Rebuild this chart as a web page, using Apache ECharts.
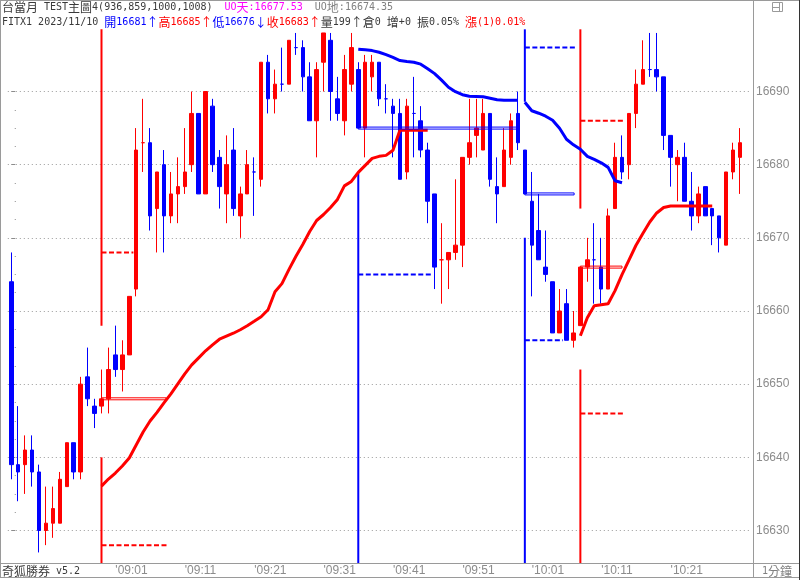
<!DOCTYPE html>
<html><head><meta charset="utf-8">
<script src="https://cdn.jsdelivr.net/npm/echarts@6/dist/echarts.min.js"></script>
<style>html,body{margin:0;padding:0;background:#fff}#c{width:800px;height:580px}</style>
</head><body><div id="c"></div>
<script>
// ---------------- data ----------------
const firstBarMinute = 8 * 60 + 46;          // 08:46
const barCount = 106;
const tickTimes = ['09:01','09:11','09:21','09:31','09:41','09:51','10:01','10:11','10:21'];

const openP = [16664,16639,16639,16641,16638,16630,16631,16631,16636,16642,
16638,16651,16647,16647,16648,16654,16652,16654,16663,16683,
16683,16674,16680,16673,16676,16677,16680,16687,16676,16688,
16681,16676,16682,16673,16676,16679,16678,16694,16689,16691,
16691,16696,16696,16692,16686,16694,16697,16689,16686,16691,
16693,16685,16692,16694,16689,16688,16687,16679,16687,16686,
16682,16676,16667,16667,16668,16669,16681,16684,16682,16687,
16677,16677,16681,16687,16682,16675,16671,16666,16664,16657,
16661,16656,16658,16666,16667,16666,16663,16674,16681,16680,
16687,16691,16693,16693,16692,16684,16680,16681,16675,16673,
16677,16674,16673,16669,16679,16681];
const closeP = [16639,16638,16641,16638,16630,16631,16633,16637,16642,16638,
16650,16648,16646,16648,16652,16652,16654,16662,16682,16683,
16673,16679,16673,16676,16677,16679,16687,16676,16690,16680,
16677,16680,16674,16676,16680,16679,16694,16689,16691,16691,
16697,16696,16692,16686,16693,16698,16690,16687,16693,16696,
16685,16694,16694,16689,16689,16687,16678,16688,16687,16682,
16675,16666,16667,16668,16669,16681,16683,16685,16687,16678,
16676,16682,16686,16683,16676,16669,16667,16665,16657,16660,
16656,16657,16666,16667,16667,16663,16673,16681,16679,16687,
16691,16693,16693,16692,16684,16681,16681,16675,16673,16676,
16673,16673,16670,16679,16682,16683];
const lowP = [16637,16634,16635,16636,16627,16628,16629,16631,16636,16637,
16637,16647,16644,16646,16646,16651,16649,16654,16662,16679,
16671,16668,16668,16672,16672,16676,16679,16676,16676,16679,
16674,16672,16673,16670,16676,16673,16677,16687,16687,16690,
16691,16695,16690,16686,16681,16690,16686,16686,16684,16690,
16685,16681,16690,16688,16687,16681,16678,16678,16681,16681,
16672,16663,16661,16663,16667,16666,16680,16681,16682,16677,
16672,16677,16680,16682,16676,16662,16667,16664,16657,16657,
16656,16655,16658,16664,16661,16661,16663,16674,16678,16678,
16685,16691,16692,16690,16682,16677,16675,16675,16671,16672,
16673,16669,16668,16669,16678,16676];
const highP = [16668,16647,16643,16643,16639,16636,16636,16638,16642,16642,
16651,16655,16648,16652,16655,16658,16656,16662,16685,16689,
16685,16679,16682,16679,16681,16685,16690,16687,16690,16689,
16682,16684,16685,16677,16682,16681,16694,16695,16693,16696,
16697,16698,16697,16694,16694,16698,16698,16692,16695,16698,
16694,16695,16695,16694,16691,16689,16689,16689,16692,16688,
16683,16676,16672,16668,16678,16681,16689,16689,16689,16687,
16681,16685,16687,16690,16682,16679,16676,16671,16664,16663,
16663,16660,16666,16670,16672,16670,16674,16683,16684,16687,
16693,16697,16698,16698,16692,16684,16682,16683,16679,16677,
16677,16674,16673,16679,16683,16685];

// trailing bands (start bar + values)
const redBand1Start = 13;
const redBand1 = [16636.07,16637.03,16637.85,16638.81,16639.90,16641.68,16643.47,16644.97,16646.14,16647.44,
16648.67,16650.04,16651.41,16652.64,16653.60,16654.56,16655.38,16656.14,16656.55,16656.96,
16657.44,16657.99,16658.60,16659.22,16660.18,16662.64,16663.74,16665.66,16667.44,16669.08,
16670.86,16672.37,16673.19,16674.15,16675.25,16677.10,16677.71,16678.95,16679.90,16680.86,
16681.14,16681.27,16681.96,16684.70,16684.70,16684.70,16684.70,16684.70];
const blueBand1Start = 50;
const blueBand1 = [16695.79,16695.70,16695.59,16695.36,16695.04,16694.66,16694.23,16694.11,16694.00,16693.74,
16693.12,16692.44,16691.55,16690.59,16689.97,16689.56,16689.36,16689.32,16689.27,16689.08,
16688.88,16688.81,16688.81,16688.81];
const blueBand2Start = 74;
const blueBand2 = [16688.53,16687.37,16687.03,16686.62,16686.07,16684.97,16683.47,16682.71,16682.10,16681.14,
16680.73,16680.25,16679.63,16677.80,16677.53];
const redBand2Start = 82;
const redBand2 = [16656.62,16659.08,16660.73,16660.86,16661.00,16662.78,16664.97,16666.96,16668.95,16670.59,
16672.16,16673.40,16674.15,16674.35,16674.35,16674.35,16674.35,16674.35,16674.35,16674.35];

// signal markers: bar, vertical segments [from,to], dashed levels [price,endBar], box [price,endBar]
const markerBars = [13, 50, 74, 82];
const markerVerticals = [
  [[16698.5, 16658], [16640, 16625.5]],
  [[16679, 16625.5]],
  [[16698.5, 16688.6], [16670, 16625.5]],
  [[16698.5, 16674], [16652, 16625.5]]
];
const markerDashes = [
  [[16668, 17.6], [16628, 22.5]],
  [[16665, 60.5]],
  [[16696, 81.5], [16656, 79.5]],
  [[16686, 88.4], [16646, 88.4]]
];
const markerBoxes = [[16648, 22.3], [16685, 72.8], [16676, 81.1], [16666, 88.0]];

// ---------------- styling ----------------
const UP = '#ff0000', DOWN = '#0000ff';
const markerColors = [UP, DOWN, DOWN, UP];
const GRAY = '#8c8c8c';

const cats = [];
for (let i = 0; i < barCount + 1; i++) {
  const t = firstBarMinute + i;
  cats.push(String(Math.floor(t / 60)).padStart(2, '0') + ':' + String(t % 60).padStart(2, '0'));
}

const candles = openP.map((o, i) => {
  const c = closeP[i];
  const item = { value: [o, c, lowP[i], highP[i]] };
  if (o === c) {
    const col = (i > 0 && c > closeP[i - 1]) ? UP : DOWN;
    item.itemStyle = { color: col, color0: col, borderColor: col, borderColor0: col };
  }
  return item;
});

function lineS(points, color, width, type, z) {
  return {
    type: 'line', xAxisIndex: 1, yAxisIndex: 0, data: points, showSymbol: false, symbol: 'none',
    clip: false, silent: true, animation: false, z: z || 4,
    lineStyle: { color: color, width: width, type: type || 'solid', cap: 'butt' }
  };
}
function band(start, vals) { return vals.map((v, k) => [start + k, v]); }

const series = [{
  type: 'candlestick', xAxisIndex: 0, yAxisIndex: 0, data: candles, barWidth: 4, clip: false,
  silent: true, z: 2,
  itemStyle: { color: UP, color0: DOWN, borderColor: UP, borderColor0: DOWN, borderWidth: 1 }
}];

markerBars.forEach((b, g) => {
  const col = markerColors[g];
  markerVerticals[g].forEach(seg => series.push(lineS([[b, seg[0]], [b, seg[1]]], col, 2, 'solid', 3)));
  markerDashes[g].forEach(d => series.push(lineS([[b, d[0]], [d[1], d[0]]], col, 2, [5, 2.5], 3)));
  const bx = markerBoxes[g], h = 0.137;
  series.push(lineS([[b, bx[0] + h], [bx[1], bx[0] + h], [bx[1], bx[0] - h], [b, bx[0] - h], [b, bx[0] + h]], col, 1, 'solid', 5));
});
series.push(lineS(band(redBand1Start, redBand1), UP, 3, 'solid', 4));
series.push(lineS(band(blueBand1Start, blueBand1), DOWN, 3, 'solid', 4));
series.push(lineS(band(blueBand2Start, blueBand2), DOWN, 3, 'solid', 4));
series.push(lineS(band(redBand2Start, redBand2), UP, 3, 'solid', 4));

// ---------------- header text ----------------
const textColors = { d: '#3a3a3a', b: DOWN, r: UP, m: '#ff00ff', g: '#808080' };
const richStyles = {};
Object.keys(textColors).forEach(k => {
  richStyles[k + 'L'] = { fill: textColors[k], fontFamily: 'DejaVu Sans Mono', fontSize: 10 };
  richStyles[k + 'C'] = { fill: textColors[k], fontFamily: 'Noto Sans CJK TC', fontSize: 12 };
});
function rich(text, key) {
  let out = '', buf = '', cur = null;
  for (const ch of text) {
    const t = /[\u2190-\u21ff\u3000-\u9fff\uff00-\uffef]/.test(ch) ? 'C' : 'L';
    if (t !== cur && buf) { out += '{' + key + cur + '|' + buf + '}'; buf = ''; }
    cur = t; buf += ch;
  }
  if (buf) out += '{' + key + cur + '|' + buf + '}';
  return out;
}
const last = barCount - 1;
const uoSky = blueBand2[blueBand2.length - 1].toFixed(2);
const uoGround = redBand2[redBand2.length - 1].toFixed(2);
const line1 = rich('台當月 TEST主圖4(936,859,1000,1008) ', 'd') + rich(' UO天:' + uoSky, 'm') + rich('  UO地:' + uoGround, 'g');
const line2 = rich('FITX1 2023/11/10 ', 'd') + rich('開' + openP[last] + '↑', 'b') + rich('高' + highP[last] + '↑', 'r') +
  rich('低' + lowP[last] + '↓', 'b') + rich('收' + closeP[last] + '↑', 'r') + rich('量199↑倉0 增+0 振0.05% ', 'd') + rich('漲(1)0.01%', 'r');

const frame = '#9a9a9a';
const graphic = [
  { type: 'line', shape: { x1: 0, y1: 0.5, x2: 800, y2: 0.5 }, style: { stroke: frame, lineWidth: 1 }, z: 10 },
  { type: 'line', shape: { x1: 0.5, y1: 0, x2: 0.5, y2: 578 }, style: { stroke: frame, lineWidth: 1 }, z: 10 },
  { type: 'line', shape: { x1: 753.5, y1: 0, x2: 753.5, y2: 578 }, style: { stroke: frame, lineWidth: 1 }, z: 10 },
  { type: 'line', shape: { x1: 0, y1: 563.5, x2: 800, y2: 563.5 }, style: { stroke: frame, lineWidth: 1 }, z: 10 },
  { type: 'line', shape: { x1: 0, y1: 577.5, x2: 800, y2: 577.5 }, style: { stroke: frame, lineWidth: 1 }, z: 10 },
  { type: 'line', shape: { x1: 799.5, y1: 0, x2: 799.5, y2: 580 }, style: { stroke: '#333', lineWidth: 1 }, z: 10 },
  { type: 'rect', shape: { x: 772.5, y: 2.5, width: 10, height: 9 }, style: { fill: 'none', stroke: frame, lineWidth: 1 }, z: 10 },
  { type: 'line', shape: { x1: 779.5, y1: 2.5, x2: 779.5, y2: 11.5 }, style: { stroke: frame, lineWidth: 1 }, z: 10 },
  { type: 'line', shape: { x1: 772.5, y1: 7.5, x2: 779.5, y2: 7.5 }, style: { stroke: frame, lineWidth: 1 }, z: 10 },
  { type: 'text', x: 2, y: 7.5, z: 20, style: { text: line1, rich: richStyles, verticalAlign: 'middle', align: 'left' } },
  { type: 'text', x: 2, y: 22, z: 20, style: { text: line2, rich: richStyles, verticalAlign: 'middle', align: 'left' } },
  { type: 'text', x: 2, y: 571, z: 20, style: { text: rich('奇狐勝券 v5.2', 'd'), rich: richStyles, verticalAlign: 'middle', align: 'left' } },
  { type: 'text', x: 762, y: 571, z: 20, style: { text: rich('1分鐘', 'g'), rich: richStyles, verticalAlign: 'middle', align: 'left' } }
];

const option = {
  animation: false,
  backgroundColor: '#ffffff',
  grid: { left: 7.8, top: 91.5, width: 742.6, height: 439 },
  xAxis: [{
    type: 'category', data: cats, boundaryGap: true, offset: 32.5,
    axisLine: { show: false }, axisTick: { show: false }, splitLine: { show: false },
    axisLabel: {
      interval: (idx, val) => tickTimes.indexOf(val) >= 0,
      formatter: v => "'" + v, align: 'left', color: GRAY,
      fontFamily: 'Liberation Sans', fontSize: 12, margin: 2, hideOverlap: false
    }
  }, {
    type: 'value', min: -0.5, max: barCount + 0.5, show: false
  }],
  yAxis: [{
    type: 'value', position: 'right', min: 16630, max: 16690, interval: 10, offset: 2.6,
    axisLine: { show: false },
    axisTick: { show: true, length: 4, lineStyle: { color: GRAY } },
    minorTick: { show: true, splitNumber: 4, length: 6, lineStyle: { color: GRAY, type: [0, 3.5, 1, 20] } },
    axisLabel: { color: GRAY, fontFamily: 'Liberation Sans', fontSize: 12, margin: 3, formatter: v => String(v) },
    splitLine: { show: true, lineStyle: { color: '#9a9a9a', type: [1, 3], width: 1 } },
    minorSplitLine: { show: false }
  }],
  graphic: graphic,
  series: series
};

const chart = echarts.init(document.getElementById('c'), null, { renderer: 'canvas', width: 800, height: 580 });
chart.setOption(option);
</script>
</body></html>
